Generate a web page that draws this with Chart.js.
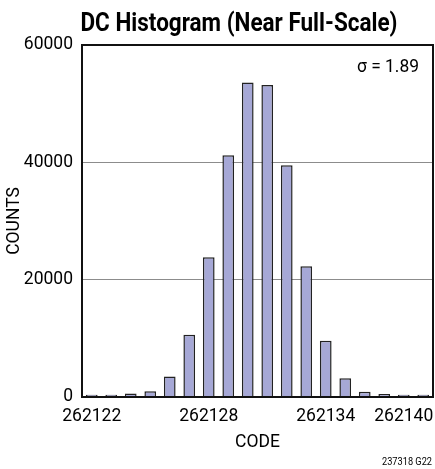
<!DOCTYPE html>
<html><head><meta charset="utf-8">
<script src="https://cdn.jsdelivr.net/npm/chart.js@4"></script>
<style>html,body{margin:0;padding:0;background:#fff}#wrap{width:435px;height:469px}</style>
</head><body><div id="wrap"><canvas id="c" width="435" height="469"></canvas></div>
<script>
const codes = [262122,262123,262124,262125,262126,262127,262128,262129,262130,262131,262132,262133,262134,262135,262136,262137,262138,262139];
const counts = [400,400,600,1000,3500,10600,23800,41200,53600,53200,39500,22300,9600,3200,900,500,400,400];
const xTickLabels = ['262122','','','','','','262128','','','','','','262134','','','','262140',''];
const yTickValues = [0,20000,40000,60000];
const titleText = 'DC Histogram (Near Full-Scale)';
const sigmaText = 'σ = 1.89';
const noteText = '237318 G22';
const xTitle = 'CODE';
const yTitle = 'COUNTS';

const FAM = 'Roboto, "Liberation Sans", sans-serif';
const STRETCH = 'semi-condensed';

function fitText(ctx, text, x, y, width, align) {
  const w = ctx.measureText(text).width;
  const k = width / w;
  ctx.save();
  ctx.translate(x, y);
  ctx.scale(k, 1);
  ctx.textAlign = align;
  ctx.fillText(text, 0, 0);
  ctx.restore();
}

const extras = {
  id: 'extras',
  afterDatasetsDraw(chart) {
    const {ctx, chartArea: a} = chart;
    ctx.save();
    ctx.strokeStyle = '#111';
    ctx.lineWidth = 2;
    ctx.strokeRect(a.left, a.top, a.right - a.left, a.bottom - a.top);
    ctx.fillStyle = '#000';
    ctx.font = '18px ' + FAM;
    ctx.textBaseline = 'alphabetic';
    fitText(ctx, sigmaText, a.right - 14, a.top + 27, 62, 'right');
    ctx.restore();
  },
  afterDraw(chart) {
    const {ctx, chartArea: a} = chart;
    ctx.save();
    ctx.fillStyle = '#000';
    ctx.textBaseline = 'alphabetic';
    ctx.font = 'bold 25px ' + FAM;
    fitText(ctx, titleText, (a.left + a.right) / 2 - 18.5, 31, 317, 'center');
    ctx.font = '11px ' + FAM;
    fitText(ctx, noteText, chart.width - 3, chart.height - 4, 50, 'right');
    ctx.restore();
  }
};

new Chart(document.getElementById('c'), {
  type: 'bar',
  data: {
    labels: codes.map(String),
    datasets: [{
      data: counts,
      backgroundColor: '#a6a8d6',
      borderColor: '#222',
      borderWidth: 1.5,
      categoryPercentage: 1,
      barPercentage: 0.6
    }]
  },
  options: {
    responsive: false,
    animation: false,
    devicePixelRatio: 1,
    layout: {padding: {top: 45, right: 2, bottom: 0, left: 0}},
    plugins: {legend: {display: false}, title: {display: false}, tooltip: {enabled: false}},
    scales: {
      x: {
        type: 'category',
        offset: true,
        grid: {display: false, drawTicks: false},
        border: {display: false},
        ticks: {
          autoSkip: false, maxRotation: 0, minRotation: 0,
          padding: 9, color: '#000',
          font: {size: 17.5, family: FAM, style: STRETCH},
          callback: (v, i) => xTickLabels[i]
        },
        title: {display: true, text: xTitle, color: '#000', font: {size: 17.5, family: FAM, style: STRETCH}, padding: {top: 0, bottom: 16}},
        afterFit: s => { s.height = 72; }
      },
      y: {
        min: 0, max: 60000,
        afterBuildTicks: s => { s.ticks = yTickValues.map(v => ({value: v})); },
        grid: {
          drawTicks: false,
          color: c => (c.tick && (c.tick.value === 0 || c.tick.value === 60000)) ? 'rgba(0,0,0,0)' : '#8c8c8c',
          lineWidth: 1
        },
        border: {display: false},
        ticks: {padding: 9, color: '#000', font: {size: 17.5, family: FAM, style: STRETCH}, callback: v => String(v)},
        title: {display: true, text: yTitle, color: '#000', font: {size: 17.5, family: FAM, style: STRETCH}, padding: {top: 4, bottom: 0}},
        afterFit: s => { s.width = 82; }
      }
    }
  },
  plugins: [extras]
});
</script>
</body></html>
